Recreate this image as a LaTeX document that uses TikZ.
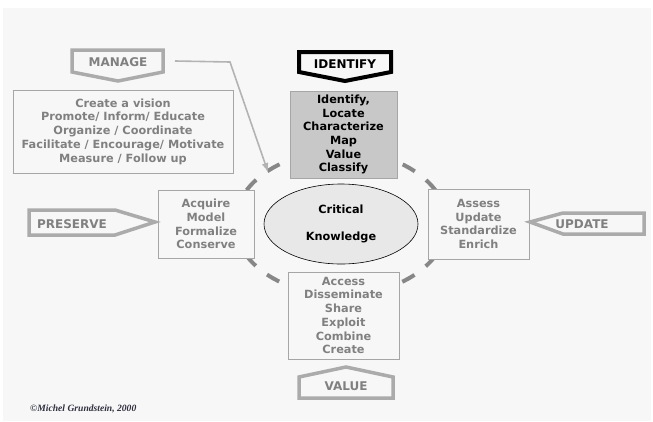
\documentclass[tikz,border=0pt]{standalone}
\usepackage{fontspec}
\setmainfont{DejaVu Sans}
\newfontfamily\signfont{Liberation Serif}
\usetikzlibrary{shapes.geometric,arrows.meta}

\definecolor{bgcol}{HTML}{F7F7F7}
\definecolor{shapecol}{HTML}{ABABAB}
\definecolor{txtcol}{HTML}{808080}
\definecolor{boxcol}{HTML}{A6A6A6}
\definecolor{idfill}{HTML}{C8C8C8}
\definecolor{knowfill}{HTML}{E8E8E8}
\definecolor{ringcol}{HTML}{878787}
\definecolor{signcol}{HTML}{303040}

\tikzset{
	tagline/.style={draw=shapecol, line width=3.5pt, line join=miter, fill=bgcol},
	tagtext/.style={text=txtcol, font=\fontsize{12}{14}\selectfont\bfseries, inner sep=0pt},
	taskbox/.style={draw=boxcol, line width=0.8pt, fill=bgcol, text=txtcol, font=\fontsize{11.3}{13.7}\selectfont\bfseries, align=center, inner sep=0pt},
	ringline/.style={draw=ringcol, line width=4pt, dash pattern=on 14pt off 14.2pt, dash phase=21.15pt},
	mgrline/.style={draw=shapecol!90!white, line width=1.6pt, -{Latex[length=9pt,width=7pt]}}
}

\begin{document}
\begin{tikzpicture}[x=1pt, y=-1pt]
		%%%%% START %%%%%
		
		\useasboundingbox (0, 0) rectangle (653, 421);
		\fill[white] (0, 0) rectangle (653, 421);
		\fill[bgcol] (3, 8) rectangle (651, 421);
		
		% dashed ring round the knowledge
		\draw[ringline] (341, 223) ellipse (106pt and 72pt);
		
		% task boxes
		\node[taskbox, minimum width=220pt, minimum height=83pt] (managebox) at (123, 131.5)
			{Create a\ vision\\Promote/ Inform/ Educate\\Organize / Coordinate\\Facilitate / Encourage/ Motivate\\Measure / Follow up};
		\node[taskbox, fill=idfill, text=black, minimum width=107pt, minimum height=87pt] (identifybox) at (343.5, 134.5)
			{Identify,\\Locate\\Characterize\\Map\\Value\\Classify};
		\node[taskbox, minimum width=96pt, minimum height=68pt] (preservebox) at (206, 224)
			{Acquire\\Model\\Formalize\\Conserve};
		\node[taskbox, minimum width=101pt, minimum height=70pt] (updatebox) at (478.5, 224)
			{Assess\\Update\\Standardize\\Enrich};
		\node[taskbox, minimum width=111pt, minimum height=87pt] (valuebox) at (343.5, 315.5)
			{Access\\Disseminate\\Share\\Exploit\\Combine\\Create};
		
		\node[ellipse, draw=black, line width=0.6pt, fill=knowfill, minimum width=154pt, minimum height=80pt, align=center, inner sep=0pt, font=\fontsize{11.3}{13.7}\selectfont\bfseries] (knowledge) at (341, 224)
			{Critical\\[13pt]Knowledge};
		
		% tags
		\draw[tagline] (72, 50) -- (163, 50) -- (163, 72) -- (118, 81) -- (72, 72) -- cycle;
		\node[tagtext] (manage) at (118, 62) {MANAGE};
		
		\draw[tagline, draw=black, line width=4pt] (299, 52) -- (391, 52) -- (391, 72) -- (345, 81) -- (299, 72) -- cycle;
		\node[tagtext, text=black] (identify) at (345, 64) {IDENTIFY};
		
		\draw[tagline] (29, 210) -- (115, 210) -- (155, 222) -- (115, 235) -- (29, 235) -- cycle;
		\node[tagtext] (preserve) at (72, 224) {PRESERVE};
		
		\draw[tagline] (530, 222) -- (563, 213) -- (644, 213) -- (644, 234) -- (563, 234) -- cycle;
		\node[tagtext] (update) at (582, 224) {UPDATE};
		
		\draw[tagline] (299, 377) -- (346, 367) -- (393, 377) -- (393, 398) -- (299, 398) -- cycle;
		\node[tagtext] (value) at (346, 386) {VALUE};
		
		% manage acts on the ring
		\coordinate (mgrtail) at (175, 61);
		\coordinate (mgrhead) at (268, 172);
		\draw[mgrline] (mgrtail) -- ++(55, 1) -- (mgrhead);
		
		\node[anchor=base west, inner sep=0pt, text=signcol, font=\signfont\bfseries\itshape\fontsize{9.6}{12}\selectfont] (sign) at (30, 411) {©Michel Grundstein, 2000};
		
		%%%%% END %%%%%
	\end{tikzpicture}
\end{document}
